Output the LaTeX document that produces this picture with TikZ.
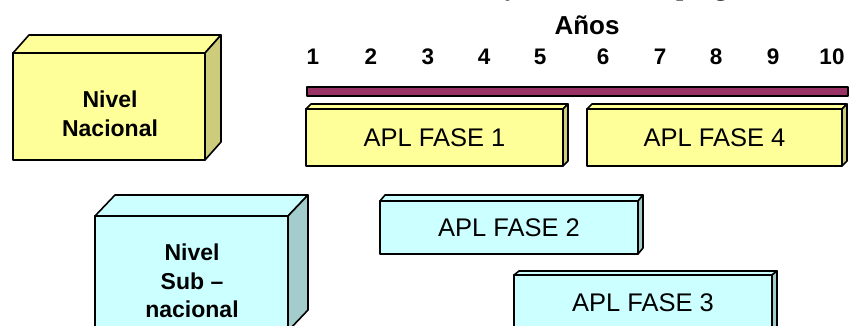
\documentclass[tikz,border=0pt]{standalone}
\usepackage{fontspec}
\setmainfont{Liberation Sans}
\newfontfamily\titlefont{Liberation Serif}
\definecolor{nacfront}{HTML}{FFFF99}
\definecolor{nacside}{HTML}{CCCC7A}
\definecolor{subfront}{HTML}{CCFFFF}
\definecolor{subside}{HTML}{A3CCCC}
\definecolor{barfill}{HTML}{993366}
% top and right faces of a box drawn behind the front face node #1
\newcommand\cubefaces[5]{%
  \filldraw[fill=#4, edge] (#1.north west) -- ([shift={(#2,-#3)}]#1.north west)
     -- ([shift={(#2,-#3)}]#1.north east) -- (#1.north east) -- cycle;
  \filldraw[fill=#5, edge] (#1.north east) -- ([shift={(#2,-#3)}]#1.north east)
     -- ([shift={(#2,-#3)}]#1.south east) -- (#1.south east) -- cycle;}
\begin{document}
\begin{tikzpicture}[x=1pt, y=-1pt,
  edge/.style={draw=black, line width=1.6pt, line join=round},
  front/.style={edge, outer sep=0pt, inner sep=0pt},
  phase/.style={front, font=\fontsize{25.5}{28}\selectfont},
  lvltext/.style={align=center, font=\bfseries\fontsize{23}{28.5}\selectfont},
  yearnum/.style={font=\bfseries\fontsize{22.5}{26}\selectfont}]
\useasboundingbox (0,0) rectangle (851,326);
\clip (0,0) rectangle (851,326);

% heading above the page edge, only its descenders reach inside
\node[anchor=base west, inner sep=0pt, font=\titlefont\bfseries\fontsize{26}{30}\selectfont]
  (title) at (377,-4) {Estructura y secuencia del programa};

% year scale
\node[font=\bfseries\fontsize{26}{30}\selectfont] (anios) at (587,25) {Años};
\foreach \n/\x in {1/313,2/371,3/428,4/484,5/540,6/603,7/660,8/716,9/773,10/832}
  \node[yearnum] (y\n) at (\x,57) {\n};
\node[edge, fill=barfill, minimum width=541pt, minimum height=9pt, inner sep=0pt,
      outer sep=0pt] (bar) at (577.5,91.5) {};

% national level
\node[front, fill=nacfront, minimum width=192pt, minimum height=107pt] (nac) at (109,106.5) {};
\cubefaces{nac}{16}{18}{nacfront}{nacside}
\node[lvltext] (nactxt) at (110,114) {Nivel\\Nacional};

% sub-national level
\node[front, fill=subfront, minimum width=193pt, minimum height=115pt] (sub) at (191.5,273.5) {};
\cubefaces{sub}{20}{21}{subfront}{subside}
\node[lvltext] (subtxt) at (192,281) {Nivel\\Sub –\\nacional};

% program phases
\node[phase, fill=nacfront, minimum width=257pt, minimum height=57pt] (f1) at (434.5,137.5) {APL FASE 1};
\cubefaces{f1}{5}{5}{nacfront}{nacside}
\node[phase, fill=nacfront, minimum width=255pt, minimum height=57pt] (f4) at (714.5,137.5) {APL FASE 4};
\cubefaces{f4}{5}{5}{nacfront}{nacside}
\node[phase, fill=subfront, minimum width=258pt, minimum height=53pt] (f2) at (509,227.5) {APL FASE 2};
\cubefaces{f2}{5}{6}{subfront}{subside}
\node[phase, fill=subfront, minimum width=258pt, minimum height=55pt] (f3) at (643,302.5) {APL FASE 3};
\cubefaces{f3}{5}{4}{subfront}{subside}
\end{tikzpicture}
\end{document}
